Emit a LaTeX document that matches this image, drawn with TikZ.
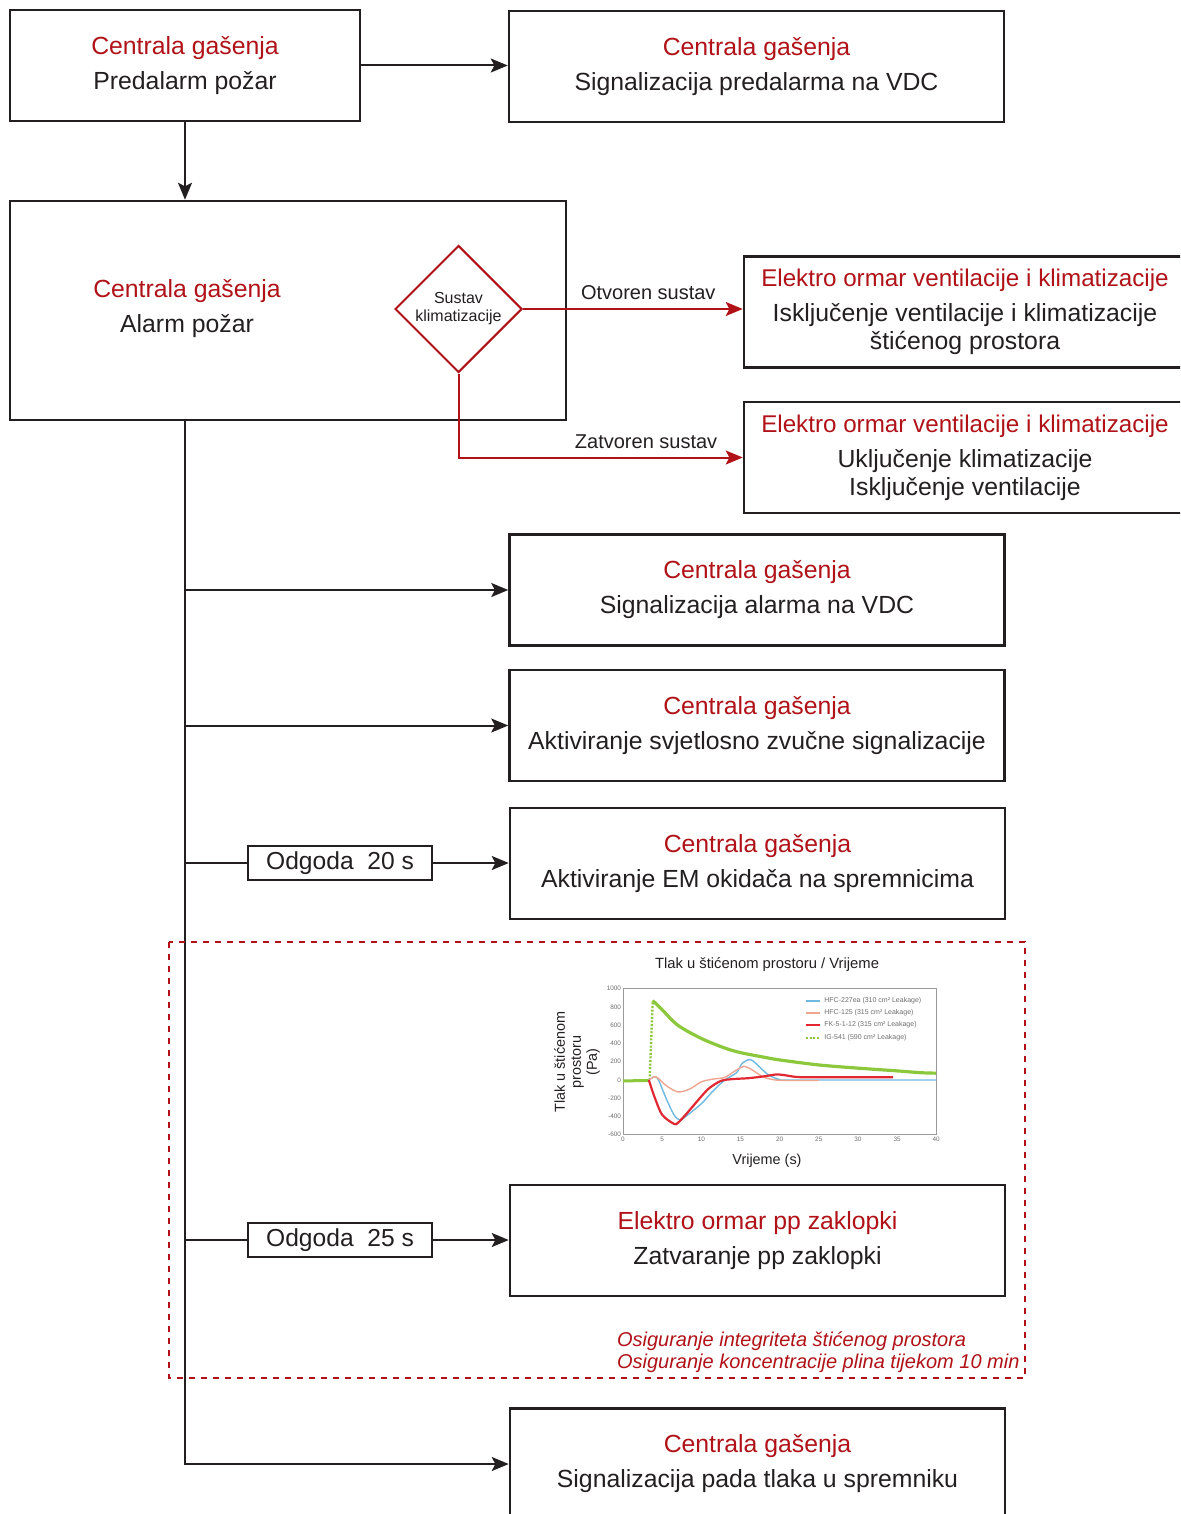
\documentclass[tikz,border=0pt]{standalone}
\usepackage{fontspec}
\setmainfont{Liberation Sans}
\usetikzlibrary{arrows.meta,positioning,shapes.geometric}
\definecolor{fgred}{RGB}{176,18,24}
\definecolor{fgblack}{RGB}{35,31,32}
\definecolor{cgrey}{RGB}{110,110,110}
\definecolor{cgreen}{RGB}{140,200,60}
\definecolor{cblue}{RGB}{110,185,225}
\definecolor{csalmon}{RGB}{240,165,145}
\definecolor{cred}{RGB}{225,40,50}
\tikzset{
  >={Stealth[length=8.5pt,width=7pt,inset=1.8pt]},
  box/.style={rectangle, draw=fgblack, line width=1.25pt, minimum width=247.5pt, minimum height=55.5pt, inner sep=0pt, align=center, text=fgblack, font=\fontsize{12.4}{14}\selectfont},
  widebox/.style={box, minimum width=221pt},
  txt/.style={align=center, text=fgblack, font=\fontsize{12.4}{14}\selectfont},
  delay/.style={rectangle, draw=fgblack, line width=1pt, minimum width=92pt, minimum height=17pt, inner sep=0pt, text=fgblack, font=\fontsize{12.3}{13}\selectfont},
  decision/.style={diamond, draw=fgred, line width=1pt, minimum width=63.5pt, minimum height=63.5pt, inner sep=0pt, align=center, text=fgblack, font=\fontsize{8}{9}\selectfont},
  line/.style={draw=fgblack, line width=1pt},
  lineR/.style={line, ->},
  redline/.style={draw=fgred, line width=1pt, ->},
  lbl/.style={text=fgblack, font=\fontsize{10}{12}\selectfont, inner sep=1pt},
  tick/.style={text=cgrey, font=\fontsize{3.2}{3.4}\selectfont, inner sep=0.8pt},
  legend/.style={text=cgrey, font=\fontsize{3.5}{3.8}\selectfont, inner sep=0pt, anchor=west},
  chartlbl/.style={text=fgblack, align=center, font=\fontsize{7.2}{8}\selectfont},
  hfcA/.style={cblue, line width=0.7pt},
  hfcB/.style={csalmon, line width=0.7pt},
  fkC/.style={cred, line width=1.1pt},
  igD/.style={cgreen, line width=1.2pt, dash pattern=on 1pt off 0.8pt}
}
\newcommand{\hd}[1]{{\color{fgred}#1}\\[3.5pt]}
\newcommand{\hdw}[1]{{\color{fgred}\fontsize{12.1}{14}\selectfont#1}\\[3.5pt]}

\begin{document}
\begin{tikzpicture}[x=0.5pt, y=-0.5pt]
    \useasboundingbox (0,0) rectangle (1180,1514);
    \clip (0,0) rectangle (1180,1514);
    % boxes
    \node [box, minimum width=175pt] (pre) at (185,65.5) {\hd{Centrala gašenja}Predalarm požar};
    \node [box] (preVDC) at (756.5,66.5) {\hd{Centrala gašenja}Signalizacija predalarma na VDC};
    \node [box, minimum width=278pt, minimum height=109.5pt] (alarm) at (288,310.5) {};
    \node [txt] (alarmtxt) at (187,308.5) {\hd{Centrala gašenja}Alarm požar};
    \node [decision] (klima) at (458.5,309) {Sustav\\klimatizacije};
    \node [widebox] (ventOff) at (965,312) {\hdw{Elektro ormar ventilacije i klimatizacije}Isključenje ventilacije i klimatizacije\\štićenog prostora};
    \node [widebox] (klimaOn) at (965,457.5) {\hdw{Elektro ormar ventilacije i klimatizacije}Uključenje klimatizacije\\Isključenje ventilacije};
    \node [box] (alarmVDC) at (757,590) {\hd{Centrala gašenja}Signalizacija alarma na VDC};
    \node [box] (sirena) at (757,725.5) {\hd{Centrala gašenja}Aktiviranje svjetlosno zvučne signalizacije};
    \node [box] (okidac) at (757.5,863.5) {\hd{Centrala gašenja}Aktiviranje EM okidača na spremnicima};
    \node [delay] (odg20) at (340,863) {Odgoda\ \ 20 s};
    \node [box] (zaklopke) at (757.5,1240.5) {\hd{Elektro ormar pp zaklopki}Zatvaranje pp zaklopki};
    \node [delay] (odg25) at (340,1240) {Odgoda\ \ 25 s};
    \node [box] (tlak) at (757.5,1464) {\hd{Centrala gašenja}Signalizacija pada tlaka u spremniku};
    % connectors
    \draw [lineR] (pre.east) -- (pre.east -| preVDC.west);
    \draw [lineR] (pre.south) -- (pre.south |- alarm.north);
    \coordinate (trunkTop) at (pre.south |- alarm.south);
    \coordinate (trunkEnd) at (pre.south |- tlak.west);
    \draw [lineR] (trunkTop) -- (trunkEnd) -- (tlak.west);
    \draw [lineR] (alarmVDC.west -| trunkTop) -- (alarmVDC.west);
    \draw [lineR] (sirena.west -| trunkTop) -- (sirena.west);
    \draw [line] (odg20.west -| trunkTop) -- (odg20.west);
    \draw [lineR] (odg20.east) -- (odg20.east -| okidac.west);
    \draw [line] (odg25.west -| trunkTop) -- (odg25.west);
    \draw [lineR] (odg25.east) -- (odg25.east -| zaklopke.west);
    \draw [redline] (klima.east) -- node [lbl, above=3pt, pos=0.57] {Otvoren sustav} (klima.east -| ventOff.west);
    \draw [redline] (klima.south) |- node [lbl, above=3pt, pos=0.83] {Zatvoren sustav} (klimaOn.west);
    % protected zone
    \draw [fgred, line width=1.25pt, dash pattern=on 3pt off 3pt] (169,942) rectangle (1025,1378);
    \node [text=fgred, align=left, anchor=west, font=\fontsize{10}{11}\selectfont\itshape] (zonetxt) at (610,1352) {Osiguranje integriteta štićenog prostora\\Osiguranje koncentracije plina tijekom 10 min};
    % chart
    \node [chartlbl, font=\fontsize{7.4}{8}\selectfont] (charttitle) at (767,965) {Tlak u štićenom prostoru / Vrijeme};
    \node [chartlbl, rotate=90] (ylab) at (577,1062) {Tlak u štićenom\\prostoru\\(Pa)};
    \node [chartlbl] (xlab) at (767,1161) {Vrijeme (s)};
    \begin{scope}[shift={(623,1080)}, xscale=7.83, yscale=-0.0913]
      \draw [cgrey!70, line width=0.5pt] (0,-600) rectangle (40,1000);
      \foreach \v in {-600,-400,...,1000} \node [tick, anchor=east] at (0,\v) {\v};
      \foreach \t in {0,5,...,40} \node [tick, anchor=north] at (\t,-600) {\t};
      \draw [cgreen, line width=1.5pt] (0,-10) -- (3.3,-5);
      \draw [igD] (3.4,0) -- (3.8,870);
      \draw [cgreen, line width=1.6pt] plot [smooth] coordinates {(3.8,870) (5,770) (7,600) (10,455) (13,350) (15,300) (18,250) (20,220) (25,165) (30,130) (35,100) (38,80) (40,75)};
      \draw [hfcA] plot [smooth] coordinates {(3.3,0) (4,35) (4.5,5) (5.5,-200) (6.5,-380) (7.3,-440) (8,-400) (10,-260) (11.5,-120) (13,0) (14.5,80) (15.2,180) (16.2,225) (17,180) (18.5,60) (20,5) (21,0) (40,0)};
      \draw [hfcB] plot [smooth] coordinates {(3.3,0) (4,35) (4.5,20) (5.5,-60) (7,-130) (8.5,-100) (10,-20) (11.5,10) (13,30) (14.5,110) (15.5,150) (16.5,110) (18,30) (19.5,0) (21,-5) (25,-5)};
      \draw [fkC] plot [smooth] coordinates {(3.3,0) (4,-180) (5,-380) (6.5,-480) (7,-470) (8,-380) (9,-280) (10,-180) (11,-90) (12.5,-10) (14,10) (16,20) (18,40) (19.5,60) (20.5,55) (22,35) (24,30) (34.5,30)};
    \end{scope}
    % legend
    \foreach \yy/\st/\name in {1001/hfcA/HFC-227ea (310 cm² Leakage),
                               1013/hfcB/HFC-125 (315 cm² Leakage),
                               1025/fkC/FK-5-1-12 (315 cm² Leakage),
                               1038/igD/IG-541 (590 cm² Leakage)} {
      \draw [\st] (806,\yy) -- (820,\yy);
      \node [legend] at (824,\yy) {\name};
    }
\end{tikzpicture}
\end{document}
